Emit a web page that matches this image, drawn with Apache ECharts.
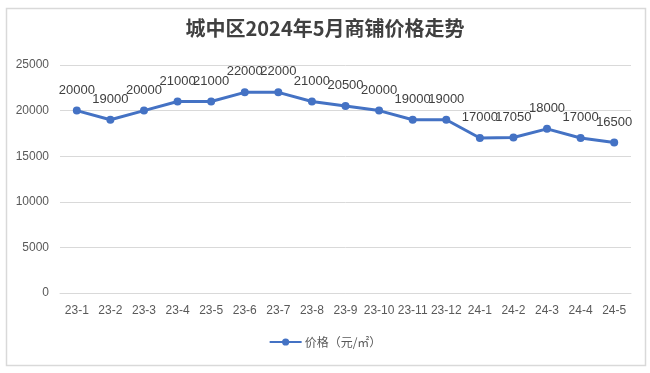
<!DOCTYPE html>
<html>
<head>
<meta charset="utf-8">
<script src="https://cdn.jsdelivr.net/npm/echarts@6/dist/echarts.min.js"></script>
<style>
html,body{margin:0;padding:0;background:#fff;}
#c{width:650px;height:373px;}
</style>
</head>
<body>
<div id="c"></div>
<script>
const titleText = '城中区2024年5月商铺价格走势';
const seriesName = '价格（元/㎡）';
const categories = ['23-1','23-2','23-3','23-4','23-5','23-6','23-7','23-8','23-9','23-10','23-11','23-12','24-1','24-2','24-3','24-4','24-5'];
const prices = [20000,19000,20000,21000,21000,22000,22000,21000,20500,20000,19000,19000,17000,17050,18000,17000,16500];

const chart = echarts.init(document.getElementById('c'), null, {renderer:'canvas'});
chart.setOption({
  animation:false,
  backgroundColor:'#fff',
  graphic:[{
    type:'rect', left:4, top:6, silent:true,
    shape:{width:639, height:357},
    style:{fill:'none', stroke:'#d9d9d9', lineWidth:1.5}
  }],
  title:{
    text:titleText, left:'center', top:13,
    textStyle:{fontFamily:'Noto Sans CJK SC', fontSize:20, fontWeight:'bold', color:'#404040'}
  },
  grid:{left:60, right:19, top:65, bottom:80, containLabel:false},
  legend:{
    bottom:20, left:'center',
    itemWidth:32, itemHeight:9, itemGap:10,
    textStyle:{fontFamily:'Noto Sans CJK SC', fontSize:12, color:'#595959', padding:[0,0,0,-2]},
    data:[seriesName]
  },
  xAxis:{
    type:'category', data:categories, boundaryGap:true,
    axisLine:{show:true, lineStyle:{color:'#d9d9d9', width:1}},
    axisTick:{show:false},
    axisLabel:{interval:0, color:'#595959', fontFamily:'Liberation Sans', fontSize:12, margin:12}
  },
  yAxis:{
    type:'value', min:0, max:25000, interval:5000,
    axisLine:{show:false}, axisTick:{show:false},
    splitLine:{lineStyle:{color:'#d9d9d9', width:1}},
    axisLabel:{color:'#595959', fontFamily:'Liberation Sans', fontSize:12, margin:11, formatter:function(v){return String(v);}}
  },
  series:[{
    name:seriesName, type:'line', data:prices,
    symbol:'circle', symbolSize:8,
    lineStyle:{color:'#4472C4', width:3},
    itemStyle:{color:'#4472C4'},
    label:{show:true, position:'top', distance:10, color:'#404040', fontFamily:'Liberation Sans', fontSize:13}
  }]
});
</script>
</body>
</html>
